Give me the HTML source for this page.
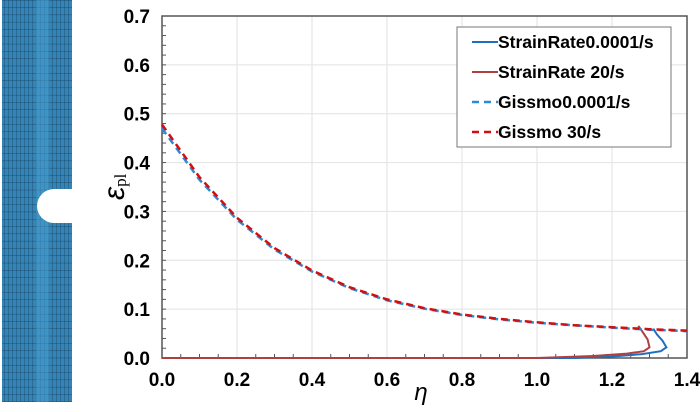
<!DOCTYPE html>
<html><head><meta charset="utf-8"><style>
body{margin:0;background:#fff;}
svg text{font-family:"Liberation Sans",Arial,sans-serif;}
</style></head><body>
<svg id="c" width="700" height="407" viewBox="0 0 700 407" xmlns="http://www.w3.org/2000/svg">
<defs>
<pattern id="mesh" width="4" height="7.3" patternUnits="userSpaceOnUse">
<rect width="4" height="7.3" fill="#3584b8"/>
<path d="M0 0H4M0 0V7.3" stroke="#163e58" stroke-width="0.7"/>
</pattern>
</defs>
<g>
<rect x="2" y="0" width="70" height="402" fill="url(#mesh)"/>
<rect x="36" y="0" width="13" height="402" fill="#4aa3d6" opacity="0.5"/>
<rect x="54" y="189" width="20" height="34" fill="#fff"/>
<circle cx="54" cy="206" r="17" fill="#fff"/>
</g>
<g id="grid"></g>
<g id="axes"></g>
<g id="series"></g>
<text transform="translate(124,200) rotate(-90)" font-size="30" font-style="italic" font-family="Liberation Serif,serif">ε<tspan font-size="17" font-style="normal" font-family="Liberation Serif,serif" dy="2">pl</tspan></text>
<text x="421" y="400" font-size="24" font-style="italic" font-family="Liberation Serif,serif" text-anchor="middle">η</text>
<g>
<rect x="457" y="27" width="214" height="120" fill="#fff" stroke="#777" stroke-width="1"/>
<g><line x1="472" y1="42" x2="498" y2="42" stroke="#1f6fc0" stroke-width="2"/><text x="498" y="48" font-size="17.5" font-weight="bold">StrainRate0.0001/s</text></g>
<g><line x1="472" y1="72" x2="498" y2="72" stroke="#b04040" stroke-width="2"/><text x="498" y="78" font-size="17.5" font-weight="bold">StrainRate 20/s</text></g>
<g><line x1="472" y1="102" x2="498" y2="102" stroke="#2e8ad6" stroke-width="2.5" stroke-dasharray="7,5"/><text x="498" y="108" font-size="17.5" font-weight="bold">Gissmo0.0001/s</text></g>
<g><line x1="472" y1="132" x2="498" y2="132" stroke="#d01010" stroke-width="2.5" stroke-dasharray="7,5"/><text x="498" y="138" font-size="17.5" font-weight="bold">Gissmo 30/s</text></g>
</g>
</svg>
<script>
const xTicks=[0,0.2,0.4,0.6,0.8,1.0,1.2,1.4];
const yTicks=[0,0.1,0.2,0.3,0.4,0.5,0.6,0.7];
const gisEta=[0,0.1,0.2,0.3,0.4,0.5,0.6,0.7,0.8,0.9,1.0,1.1,1.2,1.3,1.4];
const gisBlue=[0.470,0.365,0.283,0.222,0.177,0.143,0.118,0.101,0.088,0.079,0.072,0.067,0.062,0.058,0.055];
const gisRed=[0.478,0.370,0.287,0.225,0.179,0.145,0.120,0.102,0.089,0.080,0.073,0.067,0.063,0.059,0.056];
const srBlueEta=[0,1.1,1.2,1.28,1.33,1.345,1.335,1.32,1.31];
const srBlueEps=[0,0,0.003,0.008,0.014,0.022,0.035,0.048,0.060];
const srRedEta=[0,1.0,1.15,1.24,1.285,1.3,1.295,1.28,1.27];
const srRedEps=[0,0,0.004,0.009,0.014,0.022,0.038,0.055,0.066];
const X0=162,X1=687,Y0=358,Y1=16;
const sx=v=>X0+(v-0)/1.4*(X1-X0);
const sy=v=>Y0-(v/0.7)*(Y0-Y1);
const NS='http://www.w3.org/2000/svg';
function mk(tag,attrs,parent){const e=document.createElementNS(NS,tag);for(const k in attrs)e.setAttribute(k,attrs[k]);document.getElementById(parent).appendChild(e);return e;}
xTicks.forEach(t=>{
 if(t>0&&t<1.4){const g=mk('line',{x1:sx(t),x2:sx(t),y1:Y1,y2:Y0,stroke:'#e2e2e2','stroke-width':1},'grid');
 
 }
 const l=mk('text',{x:sx(t),y:Y0+28,'font-size':19,'font-weight':'bold','text-anchor':'middle'},'axes');l.textContent=t.toFixed(1);
 
 
});
yTicks.forEach(t=>{
 if(t>0&&t<0.7){const g=mk('line',{x1:X0,x2:X1,y1:sy(t),y2:sy(t),stroke:'#e2e2e2','stroke-width':1},'grid');
 
 }
 const l=mk('text',{x:X0-12,y:sy(t)+7,'font-size':19,'font-weight':'bold','text-anchor':'end'},'axes');l.textContent=t.toFixed(1);
 
 
});
for(let i=0;i<=28;i++){mk('line',{x1:sx(i*0.05),x2:sx(i*0.05),y1:Y0,y2:Y0-(i%4==0?0:4),stroke:'#555'},'axes');}
for(let i=0;i<=35;i++){mk('line',{x1:X0,x2:X0+4,y1:sy(i*0.02),y2:sy(i*0.02),stroke:'#555'},'axes');}
const fr=mk('rect',{x:X0,y:Y1,width:X1-X0,height:Y0-Y1,fill:'none',stroke:'#555','stroke-width':1.5},'axes');


function path(xs,ys,stroke,dash,name,w){
 const d=xs.map((x,i)=>(i?'L':'M')+sx(x).toFixed(1)+' '+sy(ys[i]).toFixed(1)).join(' ');
 const p=mk('path',{d:d,fill:'none',stroke:stroke,'stroke-width':w,'stroke-dasharray':dash||'none'},'series');
 
 
}
path(srBlueEta,srBlueEps,'#1f6fc0','','strainrate-0.0001-line',2);
path(srRedEta,srRedEps,'#b04040','','strainrate-20-line',2);
path(gisEta,gisBlue,'#2e8ad6','7,5','gissmo-0.0001-line',2.5);
path(gisEta,gisRed,'#d01010','7,5','gissmo-30-line',2.5);
</script>
</body></html>
